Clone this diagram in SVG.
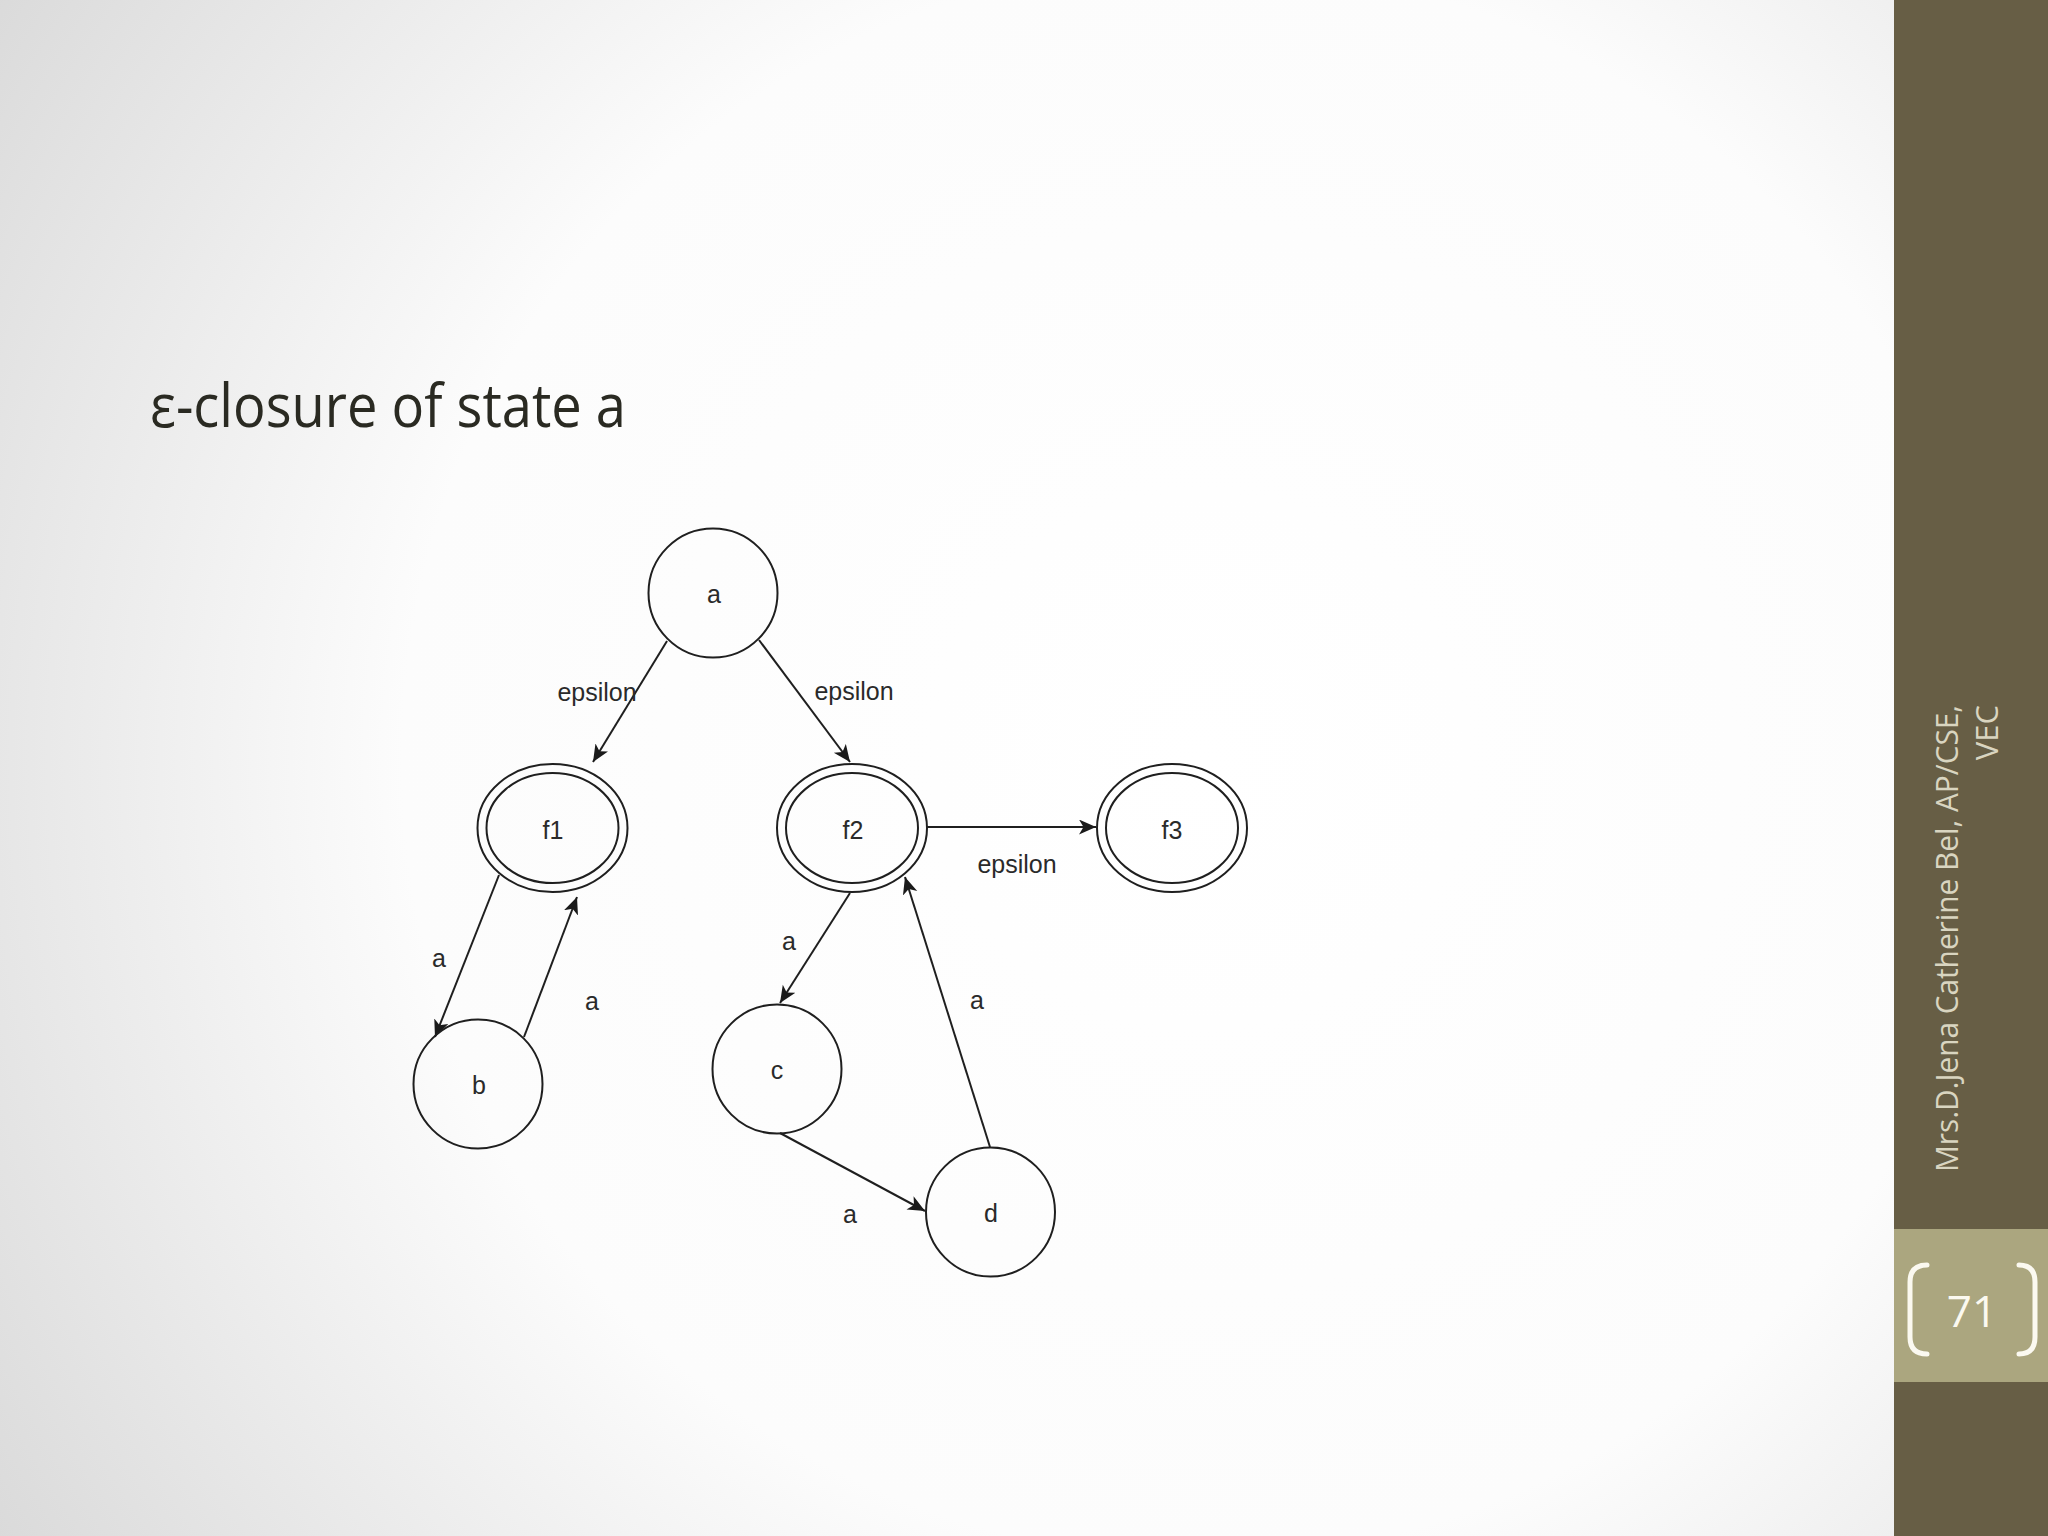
<svg xmlns="http://www.w3.org/2000/svg" width="2048" height="1536" viewBox="0 0 2048 1536">
  <defs>
    <radialGradient id="bg" gradientUnits="userSpaceOnUse" cx="1200" cy="760" r="1450">
      <stop offset="0" stop-color="#ffffff"/>
      <stop offset="0.55" stop-color="#fcfcfc"/>
      <stop offset="1" stop-color="#d9d9d9"/>
    </radialGradient>
    <marker id="arr" markerUnits="userSpaceOnUse" markerWidth="20" markerHeight="16" refX="17" refY="7.5" orient="auto">
      <path d="M0,0 L17,7.5 L0,15 L4.5,7.5 Z" fill="#1a1a1a"/>
    </marker>
    <style>
      .node { fill: none; stroke: #1f1f1f; stroke-width: 2; }
      .edge { fill: none; stroke: #1f1f1f; stroke-width: 2; marker-end: url(#arr); }
      .lbl { font-family: "Liberation Sans", Arial, sans-serif; font-size: 25px; fill: #2a2a2a; text-anchor: middle; }
      .side { font-family: "Open Sans", "Liberation Sans", sans-serif; font-size: 31px; fill: #d9d5c0; text-anchor: end; }
    </style>
  </defs>

  <!-- background -->
  <rect x="0" y="0" width="2048" height="1536" fill="url(#bg)"/>

  <!-- sidebar -->
  <g id="sidebar">
    <rect x="1894" y="0" width="154" height="1536" fill="#675e45"/>
    <rect x="1894" y="1229" width="154" height="153" fill="#aba67f"/>
    <text class="side" transform="translate(1958,705) rotate(-90)" textLength="467" lengthAdjust="spacingAndGlyphs">Mrs.D.Jena Catherine Bel, AP/CSE,</text>
    <text class="side" transform="translate(1998,705) rotate(-90)">VEC</text>
    <path d="M1927,1265 Q1910,1265 1910,1282 L1910,1337 Q1910,1354 1927,1354" fill="none" stroke="#fbf9f0" stroke-width="5" stroke-linecap="round"/>
    <path d="M2019,1265 Q2035,1265 2035,1282 L2035,1337 Q2035,1354 2019,1354" fill="none" stroke="#fbf9f0" stroke-width="5" stroke-linecap="round"/>
    <text x="1972" y="1327" font-family="'Open Sans', 'Liberation Sans', sans-serif" font-size="44" fill="#fbf9f0" text-anchor="middle">71</text>
  </g>

  <!-- title -->
  <text id="title" x="150" y="427" font-family="'Open Sans', 'Liberation Sans', sans-serif" font-size="60" fill="#2a2a22" textLength="476" lengthAdjust="spacingAndGlyphs">ε-closure of state a</text>

  <!-- connectors -->
  <g id="connectors">
    <line class="edge" x1="667" y1="641" x2="593" y2="762"/>
    <line class="edge" x1="759" y1="640" x2="850" y2="762"/>
    <line class="edge" x1="927" y1="827" x2="1096" y2="827"/>
    <line class="edge" x1="499" y1="875" x2="435" y2="1037"/>
    <line class="edge" x1="524" y1="1037" x2="577" y2="897"/>
    <line class="edge" x1="850" y1="893" x2="780" y2="1003"/>
    <line class="edge" x1="780" y1="1133" x2="925" y2="1211"/>
    <line class="edge" x1="990" y1="1147" x2="905" y2="877"/>
    <text class="lbl" x="597" y="701">epsilon</text>
    <text class="lbl" x="854" y="700">epsilon</text>
    <text class="lbl" x="1017" y="873">epsilon</text>
    <text class="lbl" x="439" y="967">a</text>
    <text class="lbl" x="592" y="1010">a</text>
    <text class="lbl" x="789" y="950">a</text>
    <text class="lbl" x="850" y="1223">a</text>
    <text class="lbl" x="977" y="1009">a</text>
  </g>

  <!-- nodes -->
  <g id="node-a">
    <circle class="node" cx="713" cy="593" r="64.5"/>
    <text class="lbl" x="714" y="603">a</text>
  </g>
  <g id="node-f1">
    <ellipse class="node" cx="552.5" cy="828" rx="75" ry="64"/>
    <ellipse class="node" cx="552.5" cy="828" rx="66" ry="55"/>
    <text class="lbl" x="553" y="839">f1</text>
  </g>
  <g id="node-f2">
    <ellipse class="node" cx="852" cy="828" rx="75" ry="64"/>
    <ellipse class="node" cx="852" cy="828" rx="66" ry="55"/>
    <text class="lbl" x="853" y="839">f2</text>
  </g>
  <g id="node-f3">
    <ellipse class="node" cx="1172" cy="828" rx="75" ry="64"/>
    <ellipse class="node" cx="1172" cy="828" rx="66" ry="55"/>
    <text class="lbl" x="1172" y="839">f3</text>
  </g>
  <g id="node-b">
    <circle class="node" cx="478" cy="1084" r="64.5"/>
    <text class="lbl" x="479" y="1094">b</text>
  </g>
  <g id="node-c">
    <circle class="node" cx="777" cy="1069" r="64.5"/>
    <text class="lbl" x="777" y="1079">c</text>
  </g>
  <g id="node-d">
    <circle class="node" cx="990.5" cy="1212" r="64.5"/>
    <text class="lbl" x="991" y="1222">d</text>
  </g>
</svg>
